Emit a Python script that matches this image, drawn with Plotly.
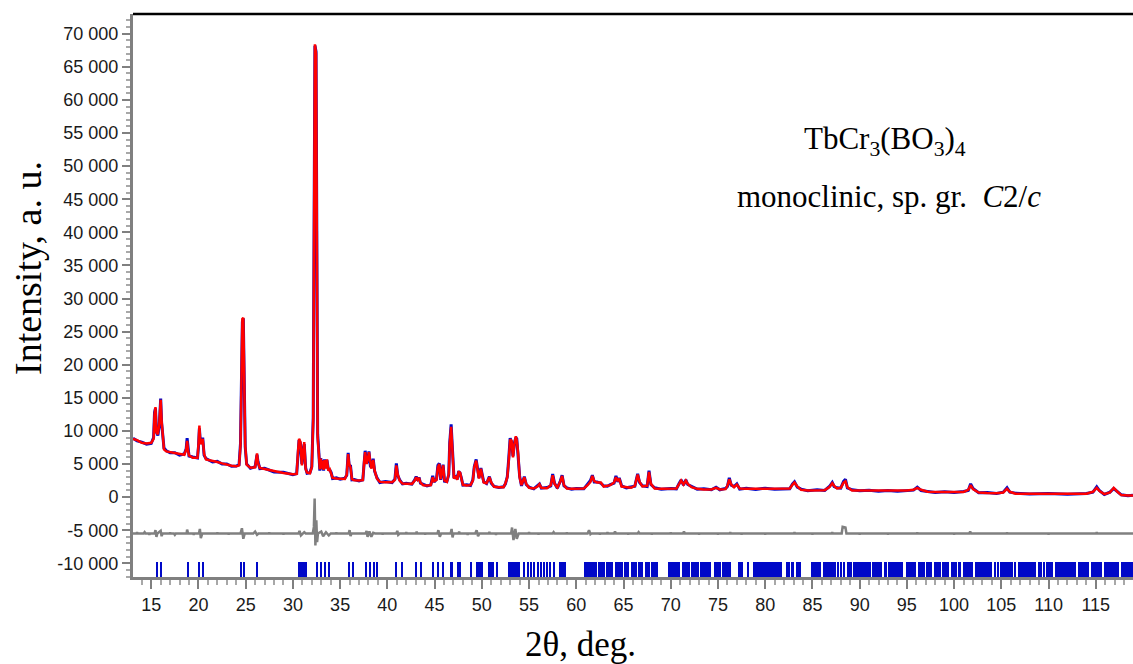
import plotly.graph_objects as go

# ---------------- data ----------------
two_theta = [
    13.07, 13.5, 14.0, 14.5, 15.0, 15.25, 15.35, 15.45, 15.55, 15.7,
    15.85, 16.0, 16.1, 16.2, 16.35, 16.6, 17.0, 17.5, 18.0, 18.5,
    18.7, 18.8, 18.9, 19.0, 19.4, 19.9, 20.0, 20.1, 20.2, 20.35,
    20.45, 20.6, 20.8, 21.5, 22.0, 22.5, 23.0, 23.5, 24.0, 24.3,
    24.45, 24.55, 24.65, 24.75, 24.85, 24.95, 25.1, 25.5, 26.0, 26.1,
    26.2, 26.3, 26.5, 27.0, 28.0, 29.0, 30.0, 30.4, 30.55, 30.65,
    30.8, 30.95, 31.1, 31.2, 31.35, 31.5, 31.8, 32.0, 32.15, 32.25,
    32.33, 32.45, 32.55, 32.62, 32.75, 32.85, 32.95, 33.05, 33.15, 33.25,
    33.35, 33.5, 33.6, 33.75, 33.9, 34.05, 34.2, 34.6, 35.0, 35.5,
    35.7, 35.85, 35.95, 36.1, 36.25, 36.5, 37.0, 37.4, 37.55, 37.65,
    37.8, 37.95, 38.05, 38.2, 38.3, 38.5, 38.65, 38.9, 39.2, 39.8,
    40.5, 40.8, 40.95, 41.1, 41.3, 41.6, 42.0, 42.6, 42.9, 43.05,
    43.2, 43.35, 43.5, 43.8, 44.2, 44.6, 44.8, 44.95, 45.2, 45.35,
    45.5, 45.65, 45.8, 45.9, 46.05, 46.3, 46.5, 46.6, 46.75, 46.9,
    47.05, 47.25, 47.4, 47.55, 47.7, 47.85, 48.0, 48.4, 48.8, 49.05,
    49.2, 49.4, 49.55, 49.7, 49.9, 50.05, 50.2, 50.5, 50.8, 51.0,
    51.3, 51.8, 52.3, 52.5, 52.7, 52.85, 53.0, 53.15, 53.3, 53.45,
    53.6, 53.7, 53.85, 54.0, 54.2, 54.5, 54.7, 55.0, 55.5, 55.9,
    56.1, 56.3, 56.9, 57.3, 57.5, 57.7, 58.0, 58.3, 58.5, 58.7,
    59.0, 59.5, 60.0, 60.8, 61.2, 61.5, 61.7, 61.9, 62.2, 62.6,
    62.9, 63.3, 63.6, 64.0, 64.2, 64.4, 64.55, 64.8, 65.3, 65.8,
    66.2, 66.5, 66.7, 67.0, 67.5, 67.7, 67.9, 68.3, 69.0, 70.0,
    70.6, 70.9, 71.1, 71.35, 71.6, 71.8, 72.2, 72.8, 73.5, 74.3,
    74.8, 75.2, 75.8, 76.0, 76.2, 76.4, 76.7, 77.0, 77.3, 78.0,
    79.0, 80.0, 81.0, 82.0, 82.6, 82.9, 83.1, 83.4, 83.8, 84.5,
    85.5, 86.3, 86.8, 87.1, 87.3, 87.6, 88.0, 88.3, 88.5, 88.7,
    89.2, 90.0, 91.0, 92.0, 93.0, 94.0, 95.0, 95.7, 96.1, 96.5,
    97.2, 98.0, 99.0, 100.0, 101.0, 101.5, 101.75, 102.0, 102.6, 103.5,
    104.5, 105.2, 105.6, 105.9, 106.5, 108.0, 110.0, 112.0, 114.0, 114.7,
    115.1, 115.4, 115.9, 116.5, 116.9, 117.3, 117.7, 118.4, 118.94,
]

y_calc = [
    8800, 8600, 8200, 8100, 8200, 8800, 12500, 13600, 9800, 9500,
    11000, 14700, 11500, 9800, 7200, 6900, 6800, 6600, 6450, 6400,
    7200, 8500, 7000, 6300, 5950, 5950, 7800, 10800, 8000, 8300,
    8800, 6500, 5700, 5400, 5300, 5100, 4900, 4750, 4650, 4800,
    7800, 20000, 26900, 27100, 20000, 7800, 4900, 4450, 4500, 5800,
    6600, 5200, 4400, 4250, 3900, 3650, 3450, 3500, 7000, 8800,
    8300, 4800, 7000, 8300, 4200, 3700, 3600, 4500, 11600, 50000,
    68400, 67000, 40000, 9000, 6500, 4200, 5800, 4300, 5500, 4100,
    5600, 4300, 5700, 4000, 4200, 3600, 2900, 2800, 2750, 2750,
    3400, 6500, 5000, 4500, 2700, 2550, 2500, 2550, 5500, 6800,
    5000, 5800, 6800, 4900, 4300, 5600, 4000, 2800, 2300, 2250,
    2250, 2600, 4800, 3400, 2500, 2050, 2000, 2000, 2500, 3000,
    2600, 2900, 2200, 1800, 1750, 1800, 3000, 2400, 2600, 4500,
    5000, 2700, 4000, 4800, 2500, 2300, 3500, 8000, 10600, 6900,
    2800, 3200, 2600, 3800, 3700, 2700, 1850, 1750, 1800, 2500,
    4500, 5500, 4000, 2800, 4300, 3200, 2200, 2100, 3000, 2200,
    1550, 1500, 1500, 2100, 3000, 5500, 8700, 8500, 6000, 8000,
    9200, 8600, 6500, 3000, 1800, 3000, 2000, 1400, 1300, 1600,
    1950, 1400, 1350, 1800, 3300, 2000, 1450, 2300, 3200, 1800,
    1300, 1250, 1250, 1300, 1800, 2300, 3200, 2400, 2200, 2200,
    1600, 1700, 1800, 2200, 3000, 2400, 2800, 1600, 1500, 1400,
    1700, 3400, 2300, 1600, 1700, 3800, 2000, 1300, 1250, 1250,
    1300, 2000, 2500, 1900, 2500, 2000, 1500, 1250, 1150, 1150,
    1400, 1150, 1200, 1700, 2700, 1900, 1500, 1900, 1300, 1250,
    1250, 1300, 1250, 1250, 1300, 1900, 2200, 1600, 1100, 1000,
    1000, 1050, 1500, 2100, 1700, 1300, 1400, 2200, 2400, 1500,
    1000, 1000, 1000, 950, 950, 950, 1000, 1100, 1400, 1100,
    800, 780, 760, 760, 780, 1100, 1800, 1200, 700, 620,
    600, 700, 1250, 800, 520, 500, 500, 480, 500, 800,
    1400, 900, 450, 700, 1400, 800, 300, 250, 250,
]

y_obs = [
    8900, 8500, 8300, 8000, 8100, 9000, 12800, 13400, 9900, 9300,
    10800, 14900, 11200, 10000, 7400, 7000, 6700, 6700, 6350, 6500,
    7300, 8900, 7100, 6200, 6050, 5900, 7600, 10400, 8300, 8200,
    9000, 6300, 5800, 5300, 5400, 5000, 5000, 4650, 4700, 4900,
    8100, 21000, 26500, 27000, 19500, 7600, 5000, 4350, 4600, 6000,
    6400, 5400, 4300, 4350, 3800, 3750, 3400, 3550, 7300, 8600,
    8100, 5000, 7200, 8000, 4400, 3600, 3700, 4600, 12000, 52000,
    68200, 67300, 38000, 9500, 6600, 4000, 5900, 4200, 5600, 4000,
    5700, 4400, 5600, 4200, 4100, 3700, 2800, 2900, 2700, 2850,
    3300, 6700, 4800, 4700, 2600, 2650, 2450, 2600, 5300, 7000,
    5100, 5600, 6900, 4700, 4500, 5800, 3900, 2900, 2200, 2350,
    2200, 2700, 5100, 3300, 2600, 2000, 2100, 1950, 2600, 3100,
    2500, 3000, 2100, 1900, 1700, 1850, 3200, 2300, 2700, 4800,
    5100, 2600, 4200, 4900, 2400, 2350, 3400, 8200, 11000, 6700,
    2900, 3100, 2700, 3900, 3600, 2800, 1800, 1850, 1750, 2600,
    4600, 5700, 3900, 2900, 4400, 3100, 2300, 2050, 3100, 2100,
    1600, 1450, 1550, 2000, 3100, 5800, 8900, 8300, 6200, 8200,
    9000, 8800, 6300, 3200, 1700, 3100, 1900, 1500, 1250, 1700,
    2000, 1350, 1450, 1700, 3500, 2100, 1350, 2400, 3300, 1700,
    1400, 1200, 1300, 1250, 1900, 2500, 3300, 2300, 2300, 2100,
    1700, 1650, 1900, 2100, 3200, 2300, 2900, 1700, 1400, 1500,
    1650, 3500, 2200, 1700, 1600, 4000, 1900, 1400, 1200, 1300,
    1250, 2100, 2600, 1800, 2600, 1900, 1600, 1200, 1250, 1100,
    1500, 1100, 1300, 1600, 2900, 1800, 1600, 2000, 1200, 1350,
    1150, 1350, 1200, 1300, 1250, 2000, 2300, 1500, 1200, 950,
    1100, 1000, 1600, 2200, 1600, 1400, 1350, 2400, 2700, 1400,
    1100, 950, 1050, 900, 1000, 900, 1050, 1050, 1500, 1000,
    850, 700, 800, 700, 850, 1000, 2000, 1300, 650, 700,
    550, 750, 1400, 750, 600, 450, 550, 430, 550, 750,
    1550, 950, 400, 750, 1300, 850, 350, 200, 300,
]

# difference curve (Iobs - Icalc), drawn shifted to -5 500
diff_x = [
    13.07, 13.45, 13.5, 13.55, 14.2, 14.3, 14.4, 14.75, 14.8, 14.85,
    15.35, 15.45, 15.55, 15.65, 16.0, 16.1, 16.2, 16.95, 17.0, 17.05,
    17.4, 17.5, 17.6, 18.75, 18.8, 18.9, 19.45, 19.5, 19.55, 20.05,
    20.15, 20.25, 20.4, 21.95, 22.0, 22.05, 23.15, 23.2, 23.25, 24.45,
    24.6, 24.75, 24.9, 25.8, 26.0, 26.2, 26.35, 27.45, 27.5, 27.55,
    28.95, 29.0, 29.05, 30.6, 30.7, 30.85, 31.2, 31.35, 32.1, 32.22,
    32.3, 32.38, 32.48, 32.56, 32.65, 33.0, 33.2, 33.5, 33.8, 34.0,
    34.55, 34.6, 34.65, 35.9, 36.0, 36.1, 36.2, 37.7, 37.8, 37.9,
    38.1, 38.3, 38.5, 38.7, 39.45, 39.5, 39.55, 40.95, 41.05, 41.15,
    41.3, 41.95, 42.0, 42.05, 43.05, 43.1, 43.15, 43.95, 44.0, 44.05,
    45.3, 45.4, 45.55, 45.7, 46.7, 46.8, 46.9, 47.0, 47.55, 47.6,
    47.65, 48.45, 48.5, 48.55, 49.3, 49.45, 49.6, 49.75, 50.75, 50.8,
    50.85, 51.45, 51.5, 51.55, 53.1, 53.2, 53.35, 53.55, 53.7, 53.9,
    54.95, 55.0, 55.05, 55.95, 56.0, 56.05, 57.5, 57.6, 57.7, 58.95,
    59.0, 59.05, 61.2, 61.35, 61.5, 61.6, 62.45, 62.5, 62.55, 63.25,
    63.3, 63.35, 64.0, 64.1, 64.2, 65.45, 65.5, 65.55, 66.5, 66.6,
    66.7, 67.95, 68.0, 68.05, 69.95, 70.0, 70.05, 71.3, 71.4, 71.5,
    72.95, 73.0, 73.05, 74.95, 75.0, 75.05, 76.25, 76.3, 76.35, 77.45,
    77.5, 77.55, 79.95, 80.0, 80.05, 83.05, 83.1, 83.15, 84.95, 85.0,
    85.05, 87.05, 87.1, 87.15, 88.1, 88.2, 88.5, 88.6, 89.95, 90.0,
    90.05, 92.95, 93.0, 93.05, 96.05, 96.1, 96.15, 99.95, 100.0, 100.05,
    101.6, 101.7, 101.8, 105.55, 105.6, 105.65, 109.95, 110.0, 110.05, 115.05,
    115.1, 115.15, 118.94,
]
diff_y = [
    -5500, -5500, -5300, -5500, -5500, -5300, -5500, -5500, -5700, -5500,
    -5500, -5000, -6000, -5500, -5100, -5900, -5500, -5500, -5350, -5500,
    -5500, -5700, -5500, -5500, -4900, -5500, -5500, -5700, -5500, -5500,
    -4800, -6200, -5500, -5500, -5350, -5500, -5500, -5650, -5500, -5500,
    -4700, -6300, -5500, -5500, -5200, -5700, -5500, -5500, -5350, -5500,
    -5500, -5650, -5500, -5500, -5100, -5800, -5300, -5500, -5500, -4500,
    -200, -7300, -3500, -6800, -5500, -5200, -5900, -5300, -5800, -5500,
    -5500, -5350, -5500, -5500, -5000, -5900, -5500, -5500, -5100, -6000,
    -5200, -6000, -5400, -5500, -5500, -5650, -5500, -5500, -5100, -5700,
    -5500, -5500, -5300, -5500, -5500, -5200, -5500, -5500, -5650, -5500,
    -5500, -5000, -6000, -5500, -5500, -4800, -6100, -5500, -5500, -5200,
    -5500, -5500, -5700, -5500, -5500, -5000, -5900, -5500, -5500, -5250,
    -5500, -5500, -5700, -5500, -5500, -4600, -6500, -4800, -6300, -5500,
    -5500, -5300, -5500, -5500, -5650, -5500, -5500, -5300, -5500, -5500,
    -5350, -5500, -5500, -5000, -5600, -5500, -5500, -5650, -5500, -5500,
    -5300, -5500, -5500, -5200, -5500, -5500, -5650, -5500, -5500, -5300,
    -5500, -5500, -5650, -5500, -5500, -5350, -5500, -5500, -5200, -5500,
    -5500, -5650, -5500, -5500, -5650, -5500, -5500, -5300, -5500, -5500,
    -5650, -5500, -5500, -5650, -5500, -5500, -5300, -5500, -5500, -5650,
    -5500, -5500, -5300, -5500, -5500, -4500, -4600, -5500, -5500, -5650,
    -5500, -5500, -5650, -5500, -5500, -5350, -5500, -5500, -5650, -5500,
    -5500, -5200, -5500, -5500, -5350, -5500, -5500, -5650, -5500, -5500,
    -5300, -5500, -5500,
]

# Bragg reflection marks: start / end of each mark or dense group (deg)
bragg_start = [
    15.55, 16.01, 18.80, 20.05, 20.41, 24.45, 24.82, 26.12, 30.57, 32.45,
    32.88, 33.34, 33.75, 35.90, 36.30, 37.67, 38.09, 38.52, 38.83, 40.85,
    41.40, 42.95, 43.48, 44.78, 45.30, 45.80, 46.60, 47.40, 48.85, 49.34,
    50.65, 51.55, 52.76, 54.45, 54.80, 55.20, 55.50, 55.85, 56.20, 56.50,
    56.85, 57.20, 57.55, 58.20, 60.80, 62.35, 63.15, 64.05, 65.05, 65.75,
    66.55, 67.25, 67.95, 69.70, 71.15, 72.15, 73.15, 74.60, 75.45, 77.10,
    78.15, 78.70, 82.20, 82.75, 83.30, 84.80, 86.10, 87.70, 87.95, 88.30,
    88.70, 89.30, 91.30, 92.60, 93.00, 94.90, 96.20, 97.05, 97.90, 98.70,
    99.70, 100.45, 100.90, 102.20, 104.30, 104.55, 104.85, 106.40, 106.80, 108.90,
    109.50, 109.75, 110.70, 113.10, 114.50, 115.90, 117.70,
]
bragg_end = [
    15.66, 16.12, 18.91, 20.16, 20.52, 24.56, 24.93, 26.23, 31.45, 32.56,
    32.99, 33.45, 33.86, 36.01, 36.41, 37.78, 38.20, 38.63, 38.94, 40.96,
    41.70, 43.06, 43.59, 44.89, 45.50, 46.00, 47.00, 47.83, 48.96, 50.12,
    51.28, 51.66, 54.06, 54.56, 54.91, 55.31, 55.61, 55.96, 56.31, 56.61,
    56.96, 57.31, 57.66, 58.90, 62.20, 63.00, 63.90, 64.90, 65.60, 66.40,
    67.10, 67.80, 68.60, 71.00, 72.00, 73.00, 74.30, 75.30, 76.40, 77.60,
    78.30, 81.80, 82.60, 83.10, 83.80, 85.90, 87.50, 87.80, 88.10, 88.50,
    89.20, 91.15, 92.40, 92.85, 94.60, 96.00, 96.90, 97.70, 98.60, 99.50,
    100.30, 100.70, 102.00, 104.00, 104.40, 104.70, 106.20, 106.60, 108.70, 109.30,
    109.60, 110.50, 112.90, 114.30, 115.70, 117.50, 118.94,
]
bragg_top = -9800
bragg_bottom = -12100

y_tick_values = list(range(-10000, 70001, 5000))
y_tick_labels = [f"{v:,}".replace(",", " ") for v in y_tick_values]
x_tick_values = list(range(15, 116, 5))

# ---------------- figure ----------------
GRAY = "#808080"
BLUE = "#0008C8"
RED = "#FF0000"

W, H = 1133, 664
ML, MR, MT, MB = 133, 0, 14, 87
PW, PH = W - ML - MR, H - MT - MB


def px_to_paper(px, py):
    return (px - ML) / PW, (H - MB - py) / PH


fig = go.Figure()

fig.add_trace(go.Bar(
    x=[(s + e) / 2 for s, e in zip(bragg_start, bragg_end)],
    y=[bragg_top - bragg_bottom] * len(bragg_start),
    base=bragg_bottom,
    width=[e - s for s, e in zip(bragg_start, bragg_end)],
    marker=dict(color=BLUE, line=dict(width=0)),
    hoverinfo="skip", showlegend=False,
))

fig.add_trace(go.Scatter(
    x=diff_x, y=diff_y, mode="lines",
    line=dict(color=GRAY, width=2.5), showlegend=False,
))

fig.add_trace(go.Scatter(
    x=two_theta, y=y_obs, mode="lines",
    line=dict(color=BLUE, width=3), showlegend=False,
))
fig.add_trace(go.Scatter(
    x=two_theta, y=y_calc, mode="lines",
    line=dict(color=RED, width=2.5), showlegend=False,
))

tick_font = dict(family="Liberation Sans, Arial, sans-serif", size=18, color="#1a1a1a")
serif = "Liberation Serif, Times New Roman, serif"

ann = []
x1, y1 = px_to_paper(885, 141)
x2, y2 = px_to_paper(889, 196)
ann.append(dict(text="TbCr<sub>3</sub>(BO<sub>3</sub>)<sub>4</sub>", xref="paper", yref="paper",
                x=x1, y=y1, xanchor="center", yanchor="middle", showarrow=False,
                font=dict(family=serif, size=31, color="black")))
ann.append(dict(text="monoclinic, sp. gr.  <i>C</i>2/<i>c</i>", xref="paper", yref="paper",
                x=x2, y=y2, xanchor="center", yanchor="middle", showarrow=False,
                font=dict(family=serif, size=31, color="black")))
# axis titles
xt, yt = px_to_paper(580, 644)
ann.append(dict(text="2θ, deg.", xref="paper", yref="paper", x=xt, y=yt,
                xanchor="center", yanchor="middle", showarrow=False,
                font=dict(family=serif, size=35, color="black")))
xt, yt = px_to_paper(28, 268)
ann.append(dict(text="Intensity, a. u.", xref="paper", yref="paper", x=xt, y=yt,
                xanchor="center", yanchor="middle", textangle=-90, showarrow=False,
                font=dict(family=serif, size=38, color="black")))

fig.update_layout(
    width=W, height=H,
    margin=dict(l=ML, r=MR, t=MT, b=MB, autoexpand=False),
    paper_bgcolor="white", plot_bgcolor="white",
    bargap=0,
    xaxis=dict(
        range=[13.07, 118.94], automargin=False,
        tickmode="array", tickvals=x_tick_values,
        ticks="outside", ticklen=9, tickwidth=2, tickcolor=GRAY,
        minor=dict(tickmode="linear", tick0=0, dtick=1, ticks="outside",
                   ticklen=5, tickwidth=1.5, tickcolor="#A8A8A8", showgrid=False),
        showline=True, linecolor=GRAY, linewidth=3,
        showgrid=False, zeroline=False,
        tickfont=tick_font,
    ),
    yaxis=dict(
        range=[-12070, 72980], automargin=False,
        tickmode="array", tickvals=y_tick_values, ticktext=y_tick_labels,
        ticks="outside", ticklen=8, tickwidth=2, tickcolor=GRAY,
        minor=dict(tickmode="linear", tick0=0, dtick=1000, ticks="outside",
                   ticklen=4, tickwidth=1.5, tickcolor="#A8A8A8", showgrid=False),
        showline=True, linecolor=GRAY, linewidth=3,
        showgrid=False, zeroline=False,
        tickfont=tick_font,
    ),
    shapes=[dict(type="line", xref="paper", yref="paper", x0=0, x1=1, y0=1, y1=1,
                 line=dict(color="black", width=2.5))],
    annotations=ann,
)

fig.write_html(
    "out.html",
    config={"displayModeBar": False},
    post_script="document.body.style.margin='0';document.body.style.overflow='hidden';",
)
